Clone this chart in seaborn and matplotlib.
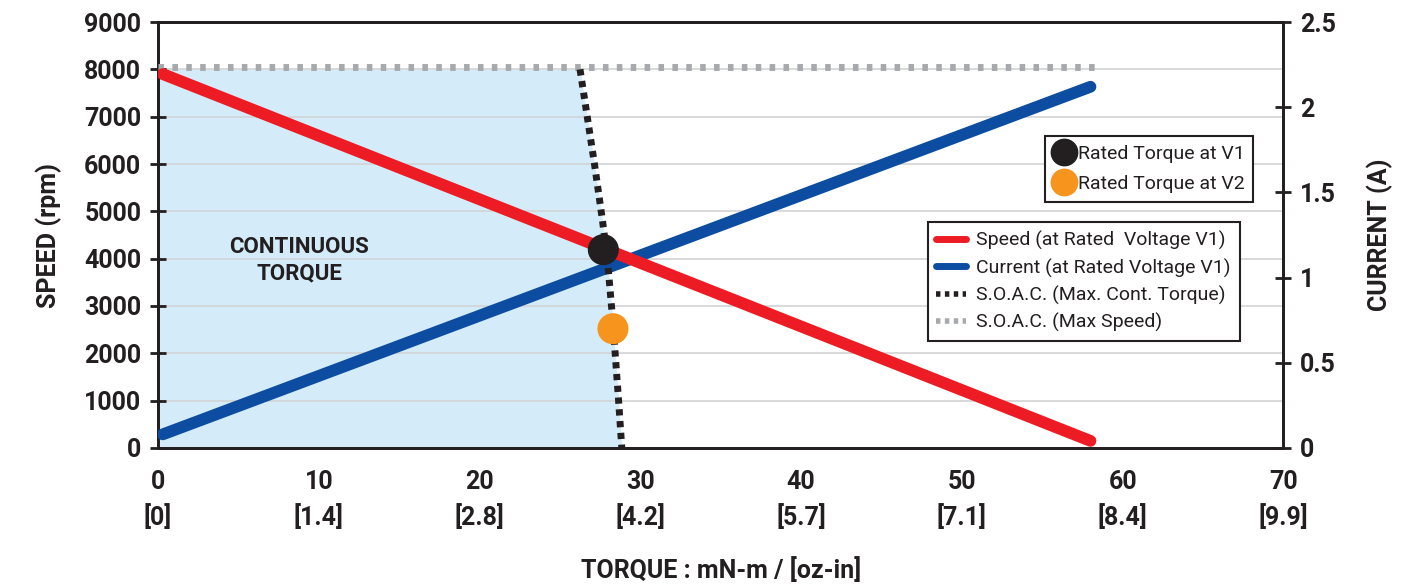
import numpy as np
import pandas as pd
import matplotlib
matplotlib.use("Agg")
import matplotlib.pyplot as plt
from matplotlib.lines import Line2D
import seaborn as sns

# -------------------------------
# DATA
# -------------------------------
torque_ticks = [0, 10, 20, 30, 40, 50, 60, 70]
ozin_labels = ["[0]", "[1.4]", "[2.8]", "[4.2]", "[5.7]", "[7.1]", "[8.4]", "[9.9]"]

speed_torque = [0.3, 58.0]
speed_rpm = [7900, 150]

current_torque = [0.3, 58.0]
current_amp = [0.08, 2.12]

soac_speed = [8000, 6000, 4800, 4000, 2640, 1000, 0]
soac_torque = [26.25, 27.15, 27.65, 27.95, 28.3, 28.65, 28.85]

maxspeed_torque = [0.0, 58.5]
maxspeed_rpm = [8050, 8050]

rated_torque = [27.7, 28.3]
rated_speed = [4190, 2520]
rated_names = ["Rated Torque at V1", "Rated Torque at V2"]

# -------------------------------
# STYLE
# -------------------------------
RED = "#ED1C24"
BLUE = "#0D4DA1"
DARK = "#231F20"
ORANGE = "#F7941D"
GRAY = "#A7A9AC"
FILL = "#D4ECF9"
GRID = "#D1D3D4"

sns.set_style("white")
plt.rcParams["font.family"] = ["Roboto", "DejaVu Sans"]
plt.rcParams["text.color"] = DARK

fig = plt.figure(figsize=(14.08, 5.84), dpi=100)
rect = [0.1122, 0.2329, 0.7993, 0.7294]
ax = fig.add_axes(rect)          # speed scale: fill, grid, ticks
ax_cur = ax.twinx()              # current scale
ax_top = ax.twinx()              # speed scale again, drawn on top

ax.set_zorder(1)
ax_cur.set_zorder(2)
ax_top.set_zorder(3)
ax_cur.patch.set_visible(False)
ax_top.patch.set_visible(False)

# continuous torque region
ax.fill_betweenx(soac_speed, 0, soac_torque, color=FILL, lw=0, zorder=0)
for y in range(1000, 9000, 1000):
    ax.axhline(y, color=GRID, lw=1.2, zorder=0.5)

# current line
sns.lineplot(x=current_torque, y=current_amp, ax=ax_cur, color=BLUE, lw=8.5,
             legend=False, zorder=3)

# max speed line
sns.lineplot(x=maxspeed_torque, y=maxspeed_rpm, ax=ax_top, color=GRAY, lw=5,
             linestyle=(0, (0.8, 1.2)), legend=False, zorder=2)
# speed line
sns.lineplot(x=speed_torque, y=speed_rpm, ax=ax_top, color=RED, lw=8.5,
             legend=False, zorder=3)
# SOAC curve
sns.lineplot(x=soac_torque, y=soac_speed, ax=ax_top, color=DARK, lw=5,
             linestyle=(0, (0.9, 0.8)), sort=False, estimator=None,
             orient="y", legend=False, zorder=4)

# rated torque points
pts = pd.DataFrame({"torque": rated_torque, "speed": rated_speed,
                    "name": rated_names})
sns.scatterplot(data=pts, x="torque", y="speed", hue="name",
                palette=[DARK, ORANGE], s=500, edgecolor="none",
                ax=ax_top, legend=False, zorder=6)

ax_top.text(8.8, 3960, "CONTINUOUS\nTORQUE", ha="center", va="center",
            fontsize=16, fontweight="bold", linespacing=1.25, color=DARK,
            zorder=5)

# -------------------------------
# AXES
# -------------------------------
for a in (ax, ax_cur, ax_top):
    a.set_xlim(0, 70)
ax.set_ylim(0, 9000)
ax_top.set_ylim(0, 9000)
ax_cur.set_ylim(0, 2.5)

ax.set_xticks(torque_ticks)
ax.set_xticklabels([f"{t}\n{o}" for t, o in zip(torque_ticks, ozin_labels)],
                   linespacing=1.45)
ax.set_yticks(range(0, 10000, 1000))
ax_cur.set_yticks([0, 0.5, 1, 1.5, 2, 2.5])
ax_cur.set_yticklabels(["0", "0.5", "1", "1.5", "2", "2.5"])
ax_top.set_yticks([])
ax_top.set_ylabel("")
ax_top.set_xlabel("")
for s in ax_top.spines.values():
    s.set_visible(False)

for a in (ax, ax_cur):
    a.tick_params(direction="inout", length=12, width=2, color=DARK,
                  labelsize=18, labelcolor=DARK, pad=6)
    for s in a.spines.values():
        s.set_color(DARK)
        s.set_linewidth(2)
    for lab in a.get_xticklabels() + a.get_yticklabels():
        lab.set_fontweight("bold")
ax.tick_params(axis="x", pad=10)

ax.set_xlabel("TORQUE : mN-m / [oz-in]", fontsize=18, fontweight="bold",
              labelpad=20, color=DARK)
ax.set_ylabel("SPEED (rpm)", fontsize=18, fontweight="bold", labelpad=16,
              color=DARK)
ax_cur.set_ylabel("CURRENT (A)", fontsize=18, fontweight="bold", labelpad=22,
                  color=DARK)
ax_cur.set_xlabel("")

# -------------------------------
# LEGENDS
# -------------------------------
pt_handles = [
    Line2D([], [], marker="o", ls="none", color=DARK, markersize=19),
    Line2D([], [], marker="o", ls="none", color=ORANGE, markersize=19),
]
leg1 = ax_top.legend(pt_handles, rated_names, loc="upper right",
                     bbox_to_anchor=(0.973, 0.732), fontsize=14, frameon=True,
                     fancybox=False, edgecolor=DARK, handlelength=1.0,
                     handletextpad=0.2, borderpad=0.45, labelspacing=0.62,
                     borderaxespad=0, framealpha=1)
leg1.get_frame().set_linewidth(1.5)
ax_top.add_artist(leg1)

line_handles = [
    Line2D([], [], color=RED, lw=5),
    Line2D([], [], color=BLUE, lw=5),
    Line2D([], [], color=DARK, lw=4, linestyle=(0, (0.8, 0.8))),
    Line2D([], [], color=GRAY, lw=4, linestyle=(0, (0.8, 0.8))),
]
line_names = ["Speed (at Rated  Voltage V1)", "Current (at Rated Voltage V1)",
              "S.O.A.C. (Max. Cont. Torque)", "S.O.A.C. (Max Speed)"]
leg2 = ax_top.legend(line_handles, line_names, loc="upper right",
                     bbox_to_anchor=(0.961, 0.530), fontsize=14, frameon=True,
                     fancybox=False, edgecolor=DARK, handlelength=1.5,
                     handletextpad=0.55, borderpad=0.45, labelspacing=0.42,
                     borderaxespad=0, framealpha=1)
leg2.get_frame().set_linewidth(1.5)

fig.savefig("out.png", dpi=100)
